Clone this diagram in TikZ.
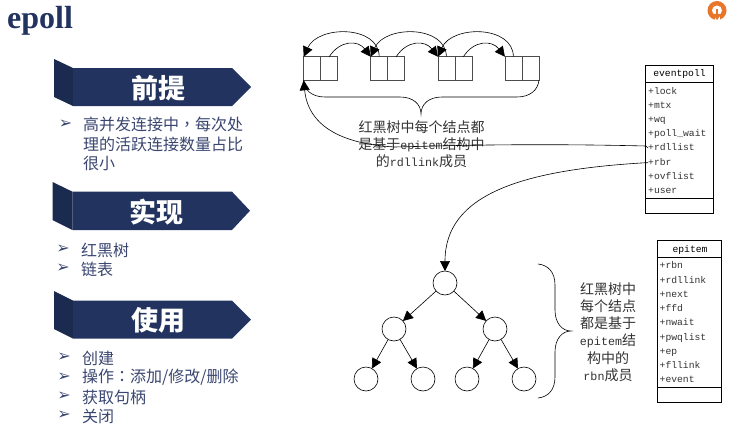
\documentclass[tikz,border=0pt]{standalone}
\usepackage{fontspec}
\setmainfont{Liberation Serif}
\newfontfamily\cjk{Noto Sans CJK SC}
\newfontfamily\cjktc{Noto Sans CJK TC}
\newfontfamily\mon{Liberation Mono}
\newfontfamily\dv{DejaVu Sans}
\usetikzlibrary{arrows.meta,calc}
\definecolor{navy}{HTML}{22335F}
\definecolor{navyd}{HTML}{1B2A4F}
\definecolor{listc}{HTML}{3A4670}
\definecolor{inkc}{HTML}{333333}
\definecolor{logoc}{HTML}{E8762A}
\tikzset{
 x=1pt,y=-1pt,
 banner/.style={fill=navy,draw=none},
 bannerd/.style={fill=navyd,draw=none},
 bantext/.style={text=white,font=\cjk\bfseries\fontsize{27}{29}\selectfont,inner sep=0pt},
 bullet/.style={text=listc,font=\dv\fontsize{16}{17}\selectfont,inner sep=0pt},
 listitem/.style={text=listc,font=\cjk\fontsize{16}{19}\selectfont,inner sep=0pt,anchor=west},
 cell/.style={draw=black!70,line width=.7pt,minimum width=17pt,minimum height=23.6pt,inner sep=0pt,outer sep=0pt},
 circ/.style={circle,draw=black,line width=.6pt,minimum size=24pt,inner sep=0pt,outer sep=0pt},
 conn/.style={draw=black,line width=.6pt,-{Triangle[length=10pt,width=10pt,fill=black]}},
 thin line/.style={draw=black,line width=.6pt},
 clsbox/.style={draw=black,line width=.8pt,inner sep=0pt,outer sep=0pt,anchor=north west},
 row/.style={font=\mon\fontsize{9.7}{10}\selectfont,text=inkc,inner sep=0pt,anchor=west,text height=7pt,text depth=2pt},
 clshead/.style={font=\mon\fontsize{9.7}{10}\selectfont,text=black,inner sep=0pt,text height=7pt,text depth=2pt},
 note/.style={text=inkc,align=center,inner sep=0pt},
}
\newcommand{\nt}{\cjk\fontsize{14}{17.3}\selectfont}
\newcommand{\ml}[1]{{\mon\fontsize{11.7}{17.3}\selectfont #1}}
\begin{document}
\begin{tikzpicture}
\useasboundingbox (0,0) rectangle (733,428);
% title
\node[font=\bfseries\fontsize{32}{34}\selectfont,text=navy,inner sep=0pt,anchor=base west] (title) at (7,29) {epoll};
% logo
\fill[logoc] (717,10.5) circle (9.5);
\fill[white] (717,10.5) circle (5);
\fill[white] (714.5,8) rectangle (719.5,20);
\fill[logoc] (715.8,9) rectangle (718.2,16);
\fill[logoc] (712.5,14) -- (721.5,14) -- (717,20) -- cycle;
% banners
\fill[bannerd] (54,59) -- (73,68) -- (73,106) -- (54,97) -- cycle;
\fill[banner] (73,68) -- (232,68) -- (251,87) -- (232,106) -- (73,106) -- cycle;
\node[bantext] (b1) at (158.5,88) {前提};
\fill[bannerd] (52.5,182) -- (72.5,191.7) -- (72.5,230) -- (52.5,220) -- cycle;
\fill[banner] (72.5,191.7) -- (232,191.7) -- (250,210.7) -- (232,230) -- (72.5,230) -- cycle;
\node[bantext] (b2) at (156,212) {实现};
\fill[bannerd] (54,291) -- (73,300.5) -- (73,338.5) -- (54,329) -- cycle;
\fill[banner] (73,300.5) -- (232,300.5) -- (251,319.5) -- (232,338.5) -- (73,338.5) -- cycle;
\node[bantext] (b3) at (158,320) {使用};
% lists
\node[bullet] (p1) at (65.5,124) {➢};
\node[listitem] (t1) at (83,124.5) {高并发连接中{\cjktc ，}每次处};
\node[listitem] (t1b) at (83,144) {理的活跃连接数量占比};
\node[listitem] (t1c) at (83,163.5) {很小};
\node[bullet] (p2) at (63,249) {➢};
\node[listitem] (t2) at (81,250) {红黑树};
\node[bullet] (p3) at (63,268) {➢};
\node[listitem] (t3) at (81,269) {链表};
\node[bullet] (p4) at (64,357) {➢};
\node[listitem] (t4) at (82,358) {创建};
\node[bullet] (p5) at (64,377) {➢};
\node[listitem] (t5) at (82,377.5) {操作{\cjktc ：}添加/修改/删除};
\node[bullet] (p6) at (64,396) {➢};
\node[listitem] (t6) at (82,397) {获取句柄};
\node[bullet] (p7) at (64,415) {➢};
\node[listitem] (t7) at (82,416) {关闭};
% linked list
\node[cell] (a1) at (312.2,68.5) {};
\node[cell] (c1) at (329.2,68.5) {};
\node[cell] (a2) at (379.2,68.5) {};
\node[cell] (c2) at (396.2,68.5) {};
\node[cell] (a3) at (446.4,68.5) {};
\node[cell] (c3) at (463.4,68.5) {};
\node[cell] (a4) at (513.4,68.5) {};
\node[cell] (c4) at (530.4,68.5) {};
\draw[conn] (c1.north) .. controls (340,40) and (358,40) .. (a2.north west);
\draw[conn] (c2.north) .. controls (407,40) and (425,40) .. (a3.north west);
\draw[conn] (c3.north) .. controls (474,40) and (492,40) .. (a4.north west);
\draw[conn] (a2.north) .. controls (379,25) and (318,25) .. (a1.north west);
\draw[conn] (a3.north) .. controls (446,25) and (385,25) .. (a2.north west);
\draw[conn] (a4.north) .. controls (513,25) and (452,25) .. (a3.north west);
% top brace
\coordinate (tip1) at (421,114);
\draw[thin line] (a1.south west) .. controls (304,90) and (312,97) .. (325,97) -- (400,97) .. controls (413,97) and (421,104) .. (tip1)
  .. controls (421,104) and (429,97) .. (442,97) -- (517,97) .. controls (530,97) and (538,90) .. (c4.south east);
\node[note,font=\nt] (n1) at (421.5,144) {红黑树中每个结点都\\是基于\ml{epitem}结构中\\的\ml{rdllink}成员};
% eventpoll
\node[clsbox,minimum width=67.3pt,minimum height=147.3pt] (ep) at (645.7,65.7) {};
\draw[line width=.8pt] (ep.north west |- 0,82.3) -- (ep.east |- 0,82.3);
\draw[line width=.8pt] (ep.north west |- 0,198.3) -- (ep.east |- 0,198.3);
\node[clshead] (eph) at (679.5,74.5) {eventpoll};
\node[row] (r1) at (648,91.7) {+lock};
\node[row] (r2) at (648,106) {+mtx};
\node[row] (r3) at (648,120) {+wq};
\node[row] (r4) at (648,134) {+poll\_wait};
\node[row] (rdl) at (648,148) {+rdllist};
\node[row] (rbr) at (648,162.7) {+rbr};
\node[row] (r7) at (648,176.7) {+ovflist};
\node[row] (r8) at (648,191) {+user};
% epitem
\node[clsbox,minimum width=64pt,minimum height=161.6pt] (ei) at (657.3,240.7) {};
\draw[line width=.8pt] (ei.north west |- 0,257.3) -- (ei.east |- 0,257.3);
\draw[line width=.8pt] (ei.north west |- 0,387.3) -- (ei.east |- 0,387.3);
\node[clshead] (eih) at (690,249.5) {epitem};
\node[row] (s1) at (659.5,266) {+rbn};
\node[row] (s2) at (659.5,280.7) {+rdllink};
\node[row] (s3) at (659.5,295) {+next};
\node[row] (s4) at (659.5,309.3) {+ffd};
\node[row] (s5) at (659.5,323.3) {+nwait};
\node[row] (s6) at (659.5,337.7) {+pwqlist};
\node[row] (s7) at (659.5,351.7) {+ep};
\node[row] (s8) at (659.5,366) {+fllink};
\node[row] (s9) at (659.5,380) {+event};
% tree
\node[circ] (n0) at (445,283) {};
\node[circ] (n1l) at (394,329) {};
\node[circ] (n1r) at (495,329) {};
\node[circ] (n2a) at (366,379) {};
\node[circ] (n2b) at (423,379) {};
\node[circ] (n2c) at (467,379) {};
\node[circ] (n2d) at (524,379) {};
\draw[conn] (n0) -- (n1l);
\draw[conn] (n0) -- (n1r);
\draw[conn] (n1l) -- (n2a);
\draw[conn] (n1l) -- (n2b);
\draw[conn] (n1r) -- (n2c);
\draw[conn] (n1r) -- (n2d);
% long connectors
\draw[conn] (rdl.west) -- ++(-2,-2) .. controls (520,143) and (440,146) .. (395,147) .. controls (340,144) and (308,125) .. (a1.south west);
\draw[conn] (rbr.west) -- ++(-2,0) .. controls (520,170) and (445,195) .. (n0.north);
% right brace
\coordinate (rb0) at (538,264);
\coordinate (rb1) at (538,398);
\coordinate (tip2) at (571,331);
\draw[thin line] (rb0) .. controls (548,265) and (555,272) .. (555,285) -- (555,310) .. controls (555,323) and (562,331) .. (tip2)
  .. controls (562,331) and (555,339) .. (555,352) -- (555,377) .. controls (555,390) and (548,397) .. (rb1);
\node[note,font=\nt] (n2) at (608,332) {红黑树中\\每个结点\\都是基于\\\ml{epitem}结\\构中的\\\ml{rbn}成员};
\end{tikzpicture}
\end{document}
